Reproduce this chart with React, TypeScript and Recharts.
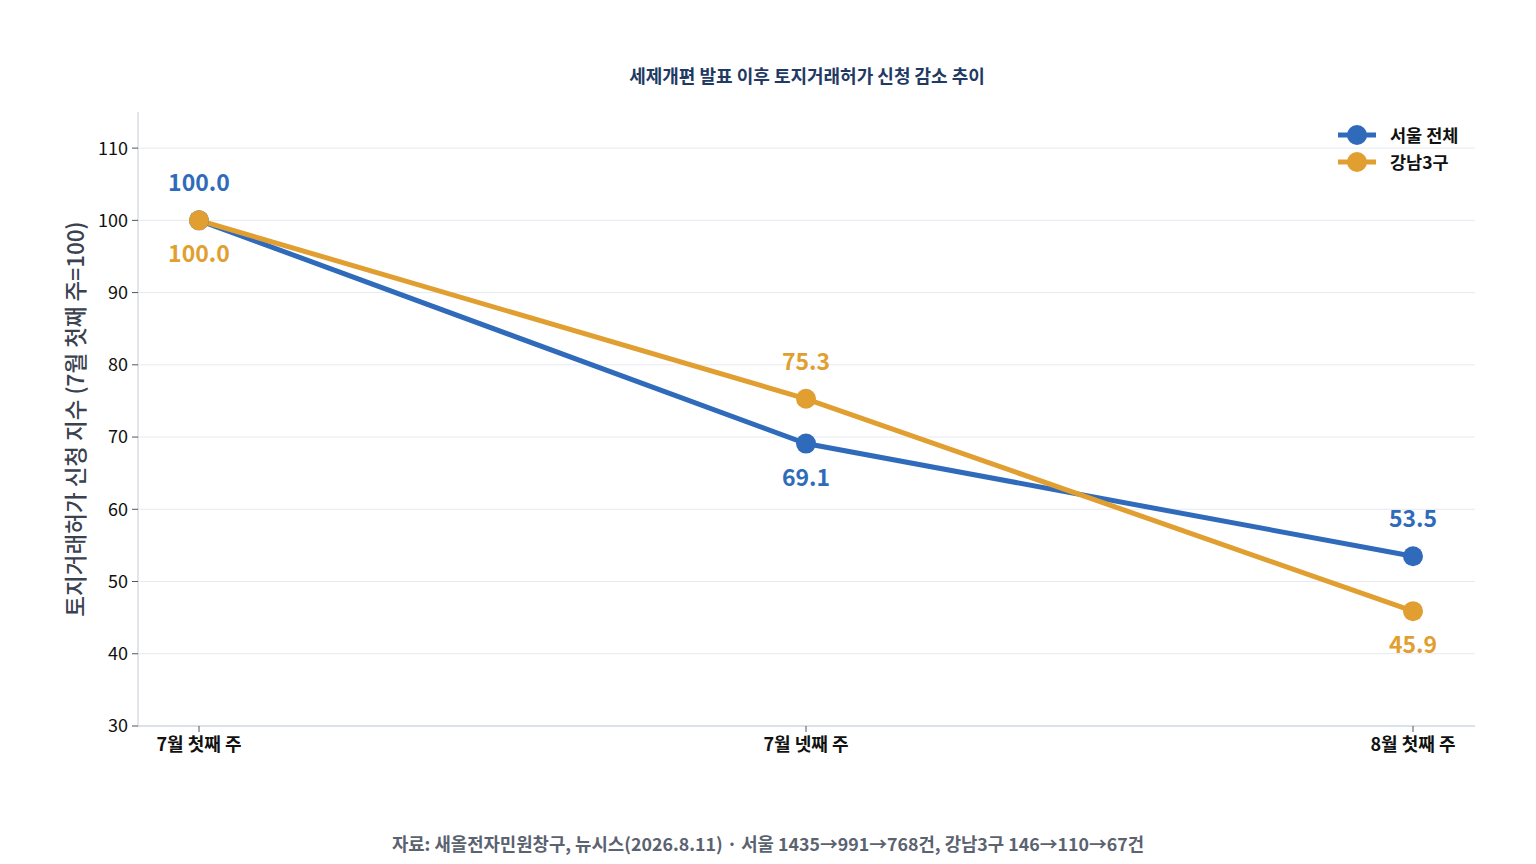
import React from 'react';
import { LineChart, Line, XAxis, YAxis, CartesianGrid, LabelList, Customized } from 'recharts';

const weeks = ['7월 첫째 주', '7월 넷째 주', '8월 첫째 주'];
const seoul = [100.0, 69.1, 53.5];
const gangnam = [100.0, 75.3, 45.9];
const yTicks = [30, 40, 50, 60, 70, 80, 90, 100, 110];
const seriesNames = ['서울 전체', '강남3구'];

const BLUE = '#2f6bba';
const ORANGE = '#e09f30';
const FONT = '"Noto Sans CJK KR", "Noto Sans", sans-serif';

const data = weeks.map((w, i) => ({ week: w, seoul: seoul[i], gangnam: gangnam[i] }));

// label above or below the point, depending on which line is higher
const makeLabel = (color, key) => (props) => {
  const { x, y, value, index } = props;
  const other = key === 'seoul' ? gangnam[index] : seoul[index];
  const mine = key === 'seoul' ? seoul[index] : gangnam[index];
  const above = mine > other || (mine === other && key === 'seoul');
  return (
    <text
      x={x}
      y={above ? y - 29 : y + 42}
      textAnchor="middle"
      fill={color}
      fontSize={23}
      fontWeight={700}
      fontFamily={FONT}
    >
      {Number(value).toFixed(1)}
    </text>
  );
};

const Texts = () => (
  <g fontFamily={FONT}>
    <text x={807} y={83} textAnchor="middle" fontSize={18} fontWeight={700} fill="#1f3a63">
      세제개편 발표 이후 토지거래허가 신청 감소 추이
    </text>
    <text x={768} y={851} textAnchor="middle" fontSize={17.8} fontWeight={700} fill="#5b6270">
      자료: 새올전자민원창구, 뉴시스(2026.8.11) · 서울 1435→991→768건, 강남3구 146→110→67건
    </text>
    <text
      x={84}
      y={419}
      transform="rotate(-90 84 419)"
      textAnchor="middle"
      fontSize={22.5}
      fontWeight={500}
      fill="#3a4250"
    >
      토지거래허가 신청 지수 (7월 첫째 주=100)
    </text>
    {[BLUE, ORANGE].map((c, i) => (
      <g key={c} transform={`translate(1338, ${135 + i * 27})`}>
        <line x1={0} x2={38} y1={0} y2={0} stroke={c} strokeWidth={5} />
        <circle cx={19} cy={0} r={10} fill={c} />
        <text x={52} y={6.5} fontSize={17.5} fontWeight={700} fill="#111">
          {seriesNames[i]}
        </text>
      </g>
    ))}
  </g>
);

export default function App() {
  return (
    <div style={{ position: 'absolute', left: 0, top: 0, width: 1536, height: 864, background: '#fff', fontFamily: FONT }}>
      <LineChart width={1536} height={864} data={data} margin={{ top: 112, right: 61, bottom: 98, left: 78 }}>
        <CartesianGrid vertical={false} stroke="#e6e9f0" horizontalValues={yTicks} />
        <XAxis
          dataKey="week"
          padding={{ left: 61, right: 62 }}
          height={40}
          stroke="#c4cdd9"
          tickLine={{ stroke: '#555' }}
          tickSize={6}
          tick={{ fill: '#111', fontSize: 18, fontWeight: 700, fontFamily: FONT }}
          tickMargin={6}
        />
        <YAxis
          domain={[30, 115]}
          ticks={yTicks}
          width={60}
          stroke="#c4cdd9"
          tickLine={{ stroke: '#555' }}
          tickSize={6}
          tickMargin={4}
          tick={{ fill: '#111', fontSize: 18, fontFamily: FONT }}
          interval={0}
        />
        <Line
          dataKey="seoul"
          name="서울 전체"
          stroke={BLUE}
          strokeWidth={5}
          dot={{ r: 10, fill: BLUE, stroke: BLUE, strokeWidth: 0 }}
          isAnimationActive={false}
        >
          <LabelList dataKey="seoul" content={makeLabel(BLUE, 'seoul')} />
        </Line>
        <Line
          dataKey="gangnam"
          name="강남3구"
          stroke={ORANGE}
          strokeWidth={5}
          dot={{ r: 10, fill: ORANGE, stroke: ORANGE, strokeWidth: 0 }}
          isAnimationActive={false}
        >
          <LabelList dataKey="gangnam" content={makeLabel(ORANGE, 'gangnam')} />
        </Line>
        <Customized component={Texts} />
      </LineChart>
    </div>
  );
}
